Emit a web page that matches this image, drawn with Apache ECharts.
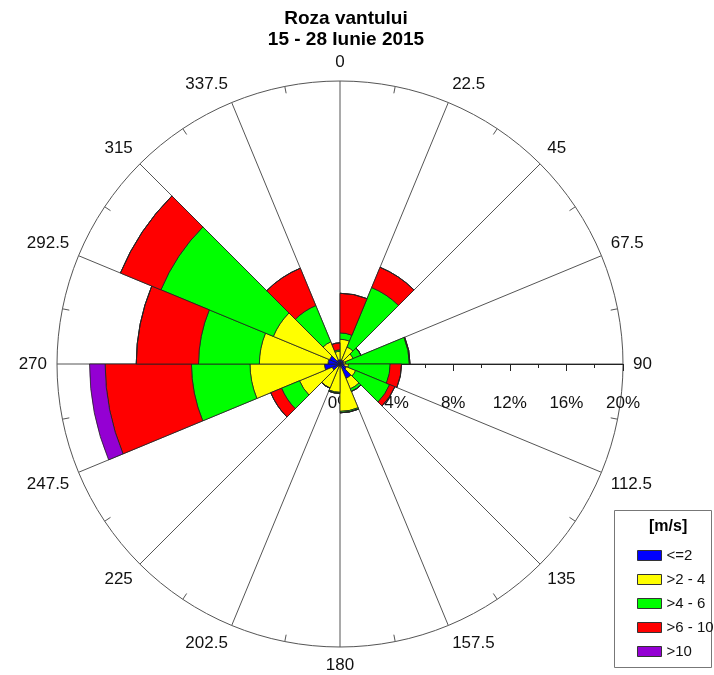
<!DOCTYPE html>
<html>
<head>
<meta charset="utf-8">
<script src="https://cdn.jsdelivr.net/npm/echarts@6/dist/echarts.min.js"></script>
<style>
  html, body { margin: 0; padding: 0; background: #fff; }
  #chart { width: 714px; height: 675px; }
</style>
</head>
<body>
<div id="chart"></div>
<script>
// sectoare de cate 22.5 grade, pornind de la nord, in sensul acelor de ceasornic
const sectors = ['0', '22.5', '45', '67.5', '90', '112.5', '135', '157.5',
  '180', '202.5', '225', '247.5', '270', '292.5', '315', '337.5'];
const angleTicks = [0, 22.5, 45, 67.5, 90, 112.5, 135, 157.5, 180, 202.5, 225, 247.5, 270, 292.5, 315, 337.5];
const radiusTicks = [0, 4, 8, 12, 16, 20];

// frecventa (%) pe clase de viteza
const speedLe2 = [0.3, 0.3, 0.3, 0.25, 0.3, 0.5, 1.1, 0.2, 0.2, 0.2, 0.6, 1.1, 0.85, 0.8, 0.3, 0.3];
const speed2to4 = [1.45, 1.0, 0.7, 0.15, 0.3, 0.7, 0.8, 3.15, 1.8, 1.65, 2.5, 5.26, 4.85, 4.3, 1.4, 0.6];
const speed4to6 = [0.45, 4.55, 0.6, 4.5, 2.95, 2.6, 0.2, 0.1, 0.08, 0, 1.37, 4.14, 4.3, 8.6, 2.77, 0.1];
const speed6to10 = [2.8, 1.55, 0, 0.05, 0.8, 0.4, 0, 0, 0, 0, 0.83, 6.1, 4.4, 3.1, 2.86, 0.5];
const speedGt10 = [0, 0, 0, 0, 0, 0, 0, 0, 0, 0, 0, 1.1, 0, 0, 0, 0];

const classNames = ['<=2', '>2 - 4', '>4 - 6', '>6 - 10', '>10'];
const classColors = ['#0000ff', '#ffff00', '#00ff00', '#ff0000', '#9400d3'];
const classData = [speedLe2, speed2to4, speed4to6, speed6to10, speedGt10];

const center = [340, 364];
const radius = 283;
const font = 'Liberation Sans, Arial, sans-serif';

const chart = echarts.init(document.getElementById('chart'));

const series = classNames.map(function (name, i) {
  return {
    name: name,
    type: 'bar',
    coordinateSystem: 'polar',
    polarIndex: 0,
    stack: 'viteza',
    barCategoryGap: '0%',
    data: classData[i],
    itemStyle: {
      color: classColors[i],
      borderColor: '#222',
      borderWidth: 0.8
    },
    emphasis: { disabled: true }
  };
});

const option = {
  backgroundColor: '#fff',
  animation: false,
  title: {
    text: 'Roza vantului\n15 - 28 Iunie 2015',
    left: 341,
    top: 3,
    textAlign: 'center',
    textStyle: {
      fontFamily: font,
      fontSize: 19,
      fontWeight: 'bold',
      color: '#000',
      lineHeight: 21
    }
  },
  polar: [
    { center: center, radius: radius },
    { center: center, radius: radius }
  ],
  angleAxis: [
    {
      polarIndex: 0,
      type: 'category',
      data: sectors,
      startAngle: 90,
      clockwise: true,
      axisLine: { show: false },
      axisLabel: { show: false },
      splitLine: { show: false },
      axisTick: {
        show: true,
        alignWithLabel: true,
        inside: true,
        length: 7,
        lineStyle: { color: '#555' }
      }
    },
    {
      polarIndex: 1,
      type: 'value',
      min: 0,
      max: 360,
      interval: 22.5,
      startAngle: 90,
      clockwise: true,
      axisLine: { show: true, lineStyle: { color: '#555', width: 1 } },
      axisTick: { show: false },
      splitLine: { show: true, lineStyle: { color: '#555', width: 1 } },
      axisLabel: {
        margin: 10,
        fontFamily: font,
        fontSize: 17,
        color: '#111',
        formatter: function (v) {
          return angleTicks.indexOf(v) >= 0 ? String(v) : '';
        }
      }
    }
  ],
  radiusAxis: [
    { polarIndex: 0, min: 0, max: 20, show: false },
    { polarIndex: 1, min: 0, max: 20, show: false }
  ],
  // scala procentelor, pe directia est, sub linia de 90
  grid: {
    left: center[0],
    width: radius,
    top: center[1] - 60,
    height: 60
  },
  xAxis: {
    type: 'value',
    min: 0,
    max: 20,
    interval: 4,
    position: 'bottom',
    axisLine: { show: true, lineStyle: { color: '#222', width: 1 } },
    axisTick: { show: true, length: 7, lineStyle: { color: '#222' } },
    minorTick: { show: true, splitNumber: 2, length: 4, lineStyle: { color: '#222' } },
    splitLine: { show: false },
    axisLabel: {
      margin: 31,
      fontFamily: font,
      fontSize: 17,
      color: '#111',
      showMinLabel: true,
      showMaxLabel: true,
      formatter: function (v) {
        return radiusTicks.indexOf(v) >= 0 ? v + '%' : '';
      }
    }
  },
  yAxis: {
    type: 'value',
    show: false
  },
  legend: {
    data: classNames,
    orient: 'vertical',
    left: 637,
    top: 548,
    padding: 0,
    itemWidth: 24,
    itemHeight: 10,
    itemGap: 9,
    icon: 'rect',
    selectedMode: false,
    itemStyle: { borderColor: '#333', borderWidth: 1 },
    textStyle: { fontFamily: font, fontSize: 15, color: '#111' }
  },
  graphic: [
    {
      type: 'rect',
      left: 614,
      top: 510,
      z: -1,
      shape: { width: 97, height: 157 },
      style: { fill: '#fff', stroke: '#777', lineWidth: 1 }
    },
    {
      type: 'text',
      left: 649,
      top: 519,
      style: {
        text: '[m/s]',
        fontFamily: font,
        fontSize: 16,
        fontWeight: 'bold',
        fill: '#000'
      }
    }
  ],
  series: series
};

chart.setOption(option);
</script>
</body>
</html>
